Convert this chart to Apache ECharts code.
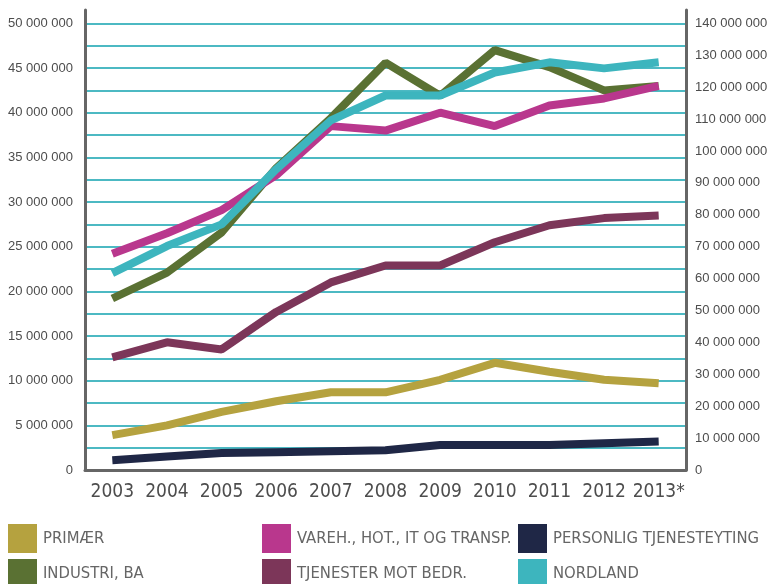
<!DOCTYPE html>
<html>
<head>
<meta charset="utf-8">
<script src="https://cdn.jsdelivr.net/npm/echarts@6/dist/echarts.min.js"></script>
<style>
    html, body { margin: 0; padding: 0; background: #fff; }
    #chart { width: 771px; height: 584px; }
</style>
</head>
<body>
<div id="chart"></div>
<script>
// år (2013 foreløpige tall)
const years = ['2003', '2004', '2005', '2006', '2007', '2008', '2009', '2010', '2011', '2012', '2013*'];

// venstre akse
const primaer = [3900000, 5000000, 6500000, 7700000, 8700000, 8700000, 10100000, 12000000, 11000000, 10100000, 9700000];
const industri = [19200000, 22100000, 26600000, 33800000, 39400000, 45600000, 41900000, 47000000, 45100000, 42500000, 43000000];
const vareh = [24200000, 26500000, 29100000, 33000000, 38500000, 38000000, 40000000, 38500000, 40800000, 41600000, 43000000];
const tjenester = [12600000, 14300000, 13500000, 17700000, 21000000, 22900000, 22900000, 25500000, 27400000, 28200000, 28500000];
const personlig = [1100000, 1500000, 1900000, 2000000, 2100000, 2200000, 2800000, 2800000, 2800000, 3000000, 3200000];

// høyre akse
const nordland = [61700000, 70200000, 77000000, 94300000, 109600000, 117400000, 117400000, 124600000, 127800000, 125900000, 127800000];

const narrow = "'DejaVu Sans Condensed', 'DejaVu Sans', sans-serif";
const axisGray = '#666';

const fmt = (v) => String(Math.round(v)).replace(/\B(?=(\d{3})+(?!\d))/g, ' ');

function lineSeries(name, data, color, axisIdx) {
    return {
        name: name,
        type: 'line',
        data: data,
        yAxisIndex: axisIdx,
        symbol: 'none',
        color: color,
        lineStyle: { width: 8, color: color, cap: 'butt' },
    };
}

function legendCol(left, names) {
    return {
        orient: 'vertical',
        left: left,
        top: 519,
        height: 80,
        padding: [5, 0, 0, 5],
        icon: 'rect',
        itemWidth: 29,
        itemHeight: 29,
        itemGap: 6,
        data: names,
        selectedMode: false,
        textStyle: { fontFamily: narrow, fontSize: 16.5, color: '#666', padding: [2, 0, 0, 1] },
    };
}

const option = {
    animation: false,
    grid: { left: 85, right: 85, top: 10, bottom: 114 },
    legend: [
        legendCol(3, ['PRIMÆR', 'INDUSTRI, BA']),
        legendCol(257, ['VAREH., HOT., IT OG TRANSP.', 'TJENESTER MOT BEDR.']),
        legendCol(513, ['PERSONLIG TJENESTEYTING', 'NORDLAND']),
    ],
    xAxis: {
        type: 'category',
        data: years,
        boundaryGap: true,
        axisLine: { lineStyle: { color: axisGray, width: 3 } },
        axisTick: { show: false },
        axisLabel: { fontFamily: narrow, fontSize: 19, color: '#4d4d4d', margin: 13, interval: 0 },
    },
    yAxis: [
        {
            type: 'value',
            min: 0,
            max: 51500000,
            interval: 2500000,
            axisLine: { show: true, lineStyle: { color: axisGray, width: 3 } },
            axisTick: { show: false },
            axisLabel: {
                fontFamily: 'Liberation Sans, sans-serif',
                fontSize: 13,
                color: '#4d4d4d',
                margin: 12,
                showMaxLabel: false,
                formatter: (v) => (v % 5000000 === 0 ? fmt(v) : ''),
            },
            splitLine: { show: true, showMaxLine: false, lineStyle: { color: '#4cb9c3', width: 2 } },
        },
        {
            type: 'value',
            min: 0,
            max: 144200000,
            interval: 10000000,
            position: 'right',
            axisLine: { show: true, lineStyle: { color: axisGray, width: 3 } },
            axisTick: { show: false },
            axisLabel: {
                fontFamily: 'Liberation Sans, sans-serif',
                fontSize: 13,
                color: '#4d4d4d',
                margin: 9,
                showMaxLabel: false,
                formatter: (v) => (v % 10000000 === 0 ? fmt(v) : ''),
            },
            splitLine: { show: false },
        },
    ],
    series: [
        lineSeries('PRIMÆR', primaer, '#b5a23f', 0),
        lineSeries('PERSONLIG TJENESTEYTING', personlig, '#1f2746', 0),
        lineSeries('TJENESTER MOT BEDR.', tjenester, '#7c3659', 0),
        lineSeries('INDUSTRI, BA', industri, '#5a7133', 0),
        lineSeries('VAREH., HOT., IT OG TRANSP.', vareh, '#b9378d', 0),
        lineSeries('NORDLAND', nordland, '#3db5be', 1),
    ],
};

const myChart = echarts.init(document.getElementById('chart'));
myChart.setOption(option);
</script>
</body>
</html>
